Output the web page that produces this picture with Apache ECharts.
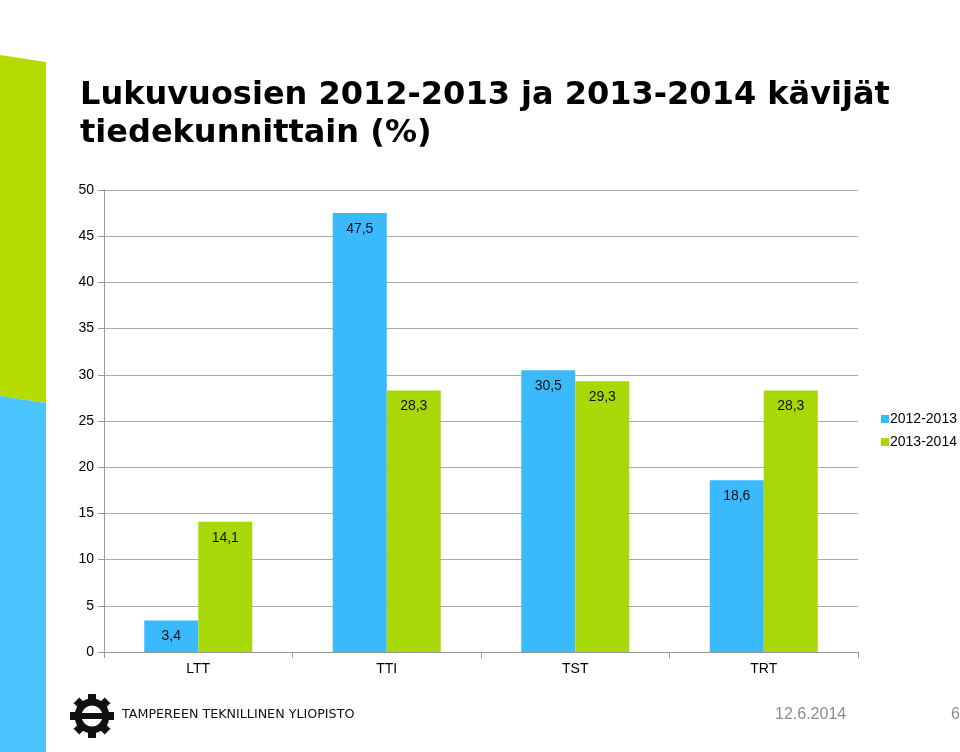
<!DOCTYPE html>
<html>
<head>
<meta charset="utf-8">
<script src="https://cdn.jsdelivr.net/npm/echarts@6/dist/echarts.min.js"></script>
<style>
  html, body { margin: 0; padding: 0; background: #fff; }
  #chart { width: 960px; height: 752px; }
</style>
</head>
<body>
<div id="chart"></div>
<script>
    // tiedot
    var categories = ['LTT', 'TTI', 'TST', 'TRT'];
    var years1213 = [3.4, 47.5, 30.5, 18.6];
    var years1314 = [14.1, 28.3, 29.3, 28.3];
    var seriesNames = ['2012-2013', '2013-2014'];

    var blue = '#3BB9FD';
    var green = '#A8D808';

    function fmt(p) {
        return String(p.value).replace('.', ',');
    }

    // logon hammasratas
    var gear = [
        { type: 'circle', shape: { cx: 92, cy: 716, r: 14 }, style: { fill: 'none', stroke: '#111', lineWidth: 7 } },
        { type: 'rect', shape: { x: 74, y: 713, width: 36, height: 6 }, style: { fill: '#111' } }
    ];
    for (var k = 0; k < 8; k++) {
        gear.push({
            type: 'rect',
            shape: { x: 88, y: 694, width: 8, height: 6 },
            originX: 92, originY: 716,
            rotation: k * Math.PI / 4,
            style: { fill: '#111' }
        });
    }

    var myChart = echarts.init(document.getElementById('chart'));
    var option = {
        backgroundColor: '#fff',
        animation: false,
        title: {
            text: 'Lukuvuosien 2012-2013 ja 2013-2014 kävijät\ntiedekunnittain (%)',
            left: 75,
            top: 72,
            textStyle: {
                fontFamily: 'DejaVu Sans',
                fontWeight: 'bold',
                fontSize: 32,
                lineHeight: 38,
                color: '#000'
            }
        },
        legend: {
            orient: 'vertical',
            left: 876,
            top: 407,
            itemWidth: 8,
            itemHeight: 8,
            itemGap: 9,
            icon: 'rect',
            textStyle: { fontFamily: 'Liberation Sans', fontSize: 14, color: '#000', padding: [0, 0, 0, -4] },
            data: seriesNames
        },
        grid: { left: 104, right: 102, top: 190, bottom: 100 },
        xAxis: {
            type: 'category',
            data: categories,
            axisLine: { lineStyle: { color: '#999' } },
            axisTick: { show: true, length: 6, lineStyle: { color: '#999' } },
            axisLabel: { fontFamily: 'Liberation Sans', fontSize: 14, color: '#000', margin: 10 }
        },
        yAxis: {
            type: 'value',
            min: 0,
            max: 50,
            interval: 5,
            axisLine: { show: true, lineStyle: { color: '#999' } },
            axisTick: { show: true, length: 6, lineStyle: { color: '#999' } },
            axisLabel: { fontFamily: 'Liberation Sans', fontSize: 14, color: '#000', margin: 10 },
            splitLine: { lineStyle: { color: '#aaa' } }
        },
        series: [{
            name: seriesNames[0],
            type: 'bar',
            data: years1213,
            barWidth: 54,
            barGap: '0%',
            itemStyle: { color: blue },
            label: {
                show: true, position: 'insideTop', distance: 9, formatter: fmt,
                fontFamily: 'Liberation Sans', fontSize: 14, color: '#111'
            }
        }, {
            name: seriesNames[1],
            type: 'bar',
            data: years1314,
            barWidth: 54,
            itemStyle: { color: green },
            label: {
                show: true, position: 'insideTop', distance: 9, formatter: fmt,
                fontFamily: 'Liberation Sans', fontSize: 14, color: '#111'
            }
        }],
        graphic: [
            // vasen koristepalkki
            { type: 'polygon', shape: { points: [[0, 55], [46, 62], [46, 403], [0, 396]] }, style: { fill: '#B5DC00' } },
            { type: 'polygon', shape: { points: [[0, 396], [46, 403], [46, 752], [0, 752]] }, style: { fill: '#4CC5FF' } },
            {
                type: 'text', left: 122, top: 708,
                style: { text: 'TAMPEREEN TEKNILLINEN YLIOPISTO', font: '12.7px "DejaVu Sans"', fill: '#111' }
            },
            {
                type: 'text', left: 775, top: 707,
                style: { text: '12.6.2014', font: '16px "Liberation Sans"', fill: '#8c8c8c' }
            },
            {
                type: 'text', left: 951, top: 707,
                style: { text: '6', font: '16px "Liberation Sans"', fill: '#8c8c8c' }
            }
        ].concat(gear)
    };
    myChart.setOption(option);
</script>
</body>
</html>
